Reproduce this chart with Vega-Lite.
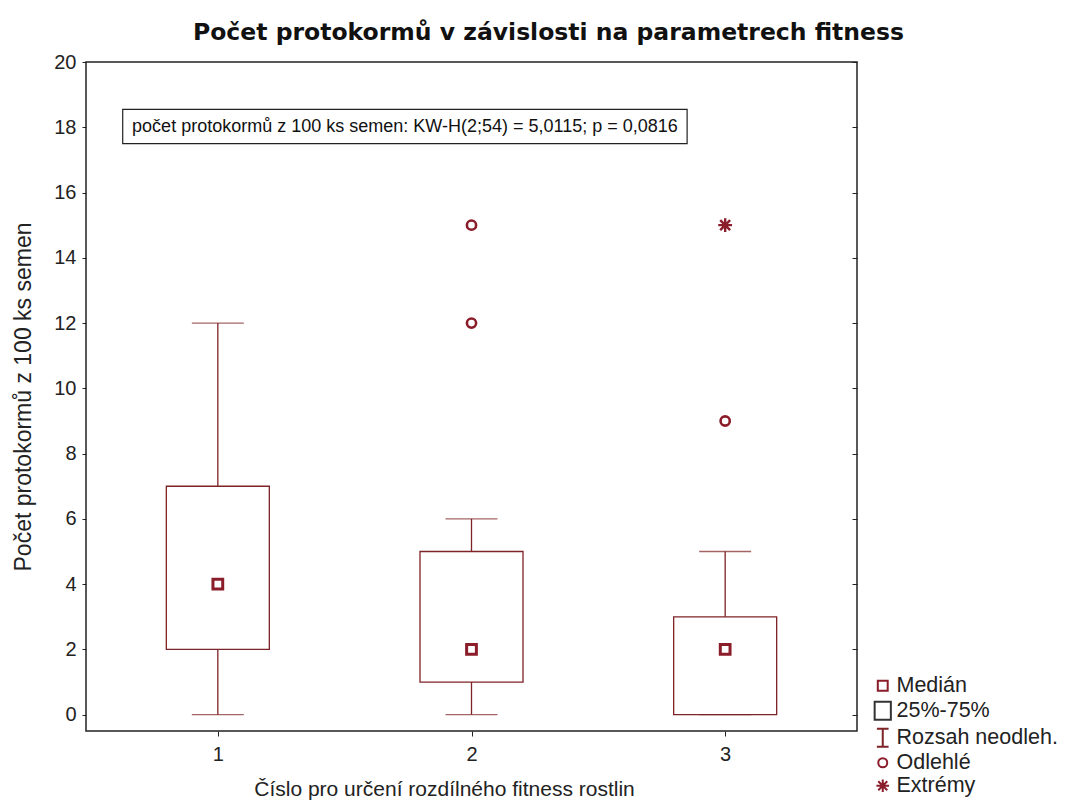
{
  "$schema": "https://vega.github.io/schema/vega-lite/v6.json",
  "width": 771,
  "height": 669,
  "autosize": {"type": "none"},
  "padding": {"left": 86, "top": 62, "right": 217, "bottom": 76},
  "background": "white",
  "config": {
    "font": "Liberation Sans",
    "view": {"stroke": "#222", "strokeWidth": 1.5},
    "axis": {"grid": false, "domain": false, "labelFont": "Liberation Sans", "titleFont": "Liberation Sans", "labelColor": "#222", "titleColor": "#222", "tickColor": "#222"}
  },
  "title": {
    "text": "Počet protokormů v závislosti na parametrech fitness",
    "font": "DejaVu Sans",
    "fontSize": 23.5,
    "fontWeight": "bold",
    "color": "#111",
    "anchor": "middle",
    "dx": 77,
    "offset": 8
  },
  "datasets": {
    "boxes": [
      {"group": 1, "min": 0, "q1": 2, "median": 4, "q3": 7, "max": 12},
      {"group": 2, "min": 0, "q1": 1, "median": 2, "q3": 5, "max": 6},
      {"group": 3, "min": 0, "q1": 0, "median": 2, "q3": 3, "max": 5}
    ],
    "outliers": [
      {"group": 2, "value": 12, "kind": "Odlehlé"},
      {"group": 2, "value": 15, "kind": "Odlehlé"},
      {"group": 3, "value": 9, "kind": "Odlehlé"}
    ],
    "extremes": [
      {"group": 3, "value": 15, "kind": "Extrémy"}
    ],
    "note": [
      {"x1": 0.625, "x2": 2.85, "y1": 17.5, "y2": 18.55, "xm": 1.7375, "ym": 18.02, "label": "počet protokormů z 100 ks semen: KW-H(2;54) = 5,0115; p = 0,0816"}
    ],
    "legend": [
      {"item": "Medián"},
      {"item": "25%-75%"},
      {"item": "Rozsah neodleh."},
      {"item": "Odlehlé"},
      {"item": "Extrémy"}
    ]
  },
  "resolve": {"axis": {"y": "independent"}},
  "layer": [
    {
      "data": {"name": "boxes"},
      "mark": {"type": "rule", "color": "#7e2326", "strokeWidth": 1.3},
      "encoding": {
        "x": {"field": "group", "type": "quantitative", "scale": {"domain": [0.5, 3.5], "nice": false, "zero": false},
          "axis": {"values": [1, 2, 3], "format": "d", "title": "Číslo pro určení rozdílného fitness rostlin", "labelFontSize": 20, "titleFontSize": 21, "titleFontWeight": "normal", "tickSize": 5, "labelPadding": 8, "titlePadding": 14, "titleX": 358, "titleAnchor": "middle"}},
        "y": {"field": "min", "type": "quantitative", "scale": {"domain": [-0.5, 20], "nice": false, "zero": false},
          "axis": {"values": [0, 2, 4, 6, 8, 10, 12, 14, 16, 18, 20], "title": "Počet protokormů z 100 ks semen", "labelFontSize": 20, "titleFontSize": 23, "titleFontWeight": "normal", "tickSize": 4, "labelPadding": 6, "titlePadding": 18}},
        "y2": {"field": "max"}
      }
    },
    {
      "data": {"name": "boxes"},
      "mark": {"type": "bar", "size": 103, "fill": "white", "stroke": "#7e2326", "strokeWidth": 1.3},
      "encoding": {
        "x": {"field": "group", "type": "quantitative"},
        "y": {"field": "q1", "type": "quantitative",
          "axis": {"orient": "right", "values": [0, 2, 4, 6, 8, 10, 12, 14, 16, 18, 20], "labels": false, "title": null, "tickSize": -5}},
        "y2": {"field": "q3"}
      }
    },
    {
      "data": {"name": "boxes"},
      "mark": {"type": "tick", "orient": "horizontal", "size": 52, "thickness": 1.3, "color": "#7e2326"},
      "encoding": {
        "x": {"field": "group", "type": "quantitative"},
        "y": {"field": "min", "type": "quantitative", "axis": null}
      }
    },
    {
      "data": {"name": "boxes"},
      "mark": {"type": "tick", "orient": "horizontal", "size": 52, "thickness": 1.3, "color": "#7e2326"},
      "encoding": {
        "x": {"field": "group", "type": "quantitative"},
        "y": {"field": "max", "type": "quantitative", "axis": null}
      }
    },
    {
      "data": {"name": "boxes"},
      "mark": {"type": "point", "shape": "square", "size": 95, "filled": false, "fill": "white", "stroke": "#8b1d2a", "strokeWidth": 3, "opacity": 1},
      "encoding": {
        "x": {"field": "group", "type": "quantitative"},
        "y": {"field": "median", "type": "quantitative", "axis": null}
      }
    },
    {
      "data": {"name": "outliers"},
      "mark": {"type": "point", "shape": "circle", "size": 85, "filled": false, "stroke": "#8b1d2a", "strokeWidth": 2.6, "opacity": 1},
      "encoding": {
        "x": {"field": "group", "type": "quantitative"},
        "y": {"field": "value", "type": "quantitative", "axis": null}
      }
    },
    {
      "data": {"name": "extremes"},
      "mark": {"type": "point", "shape": "M-1,0H1M0,-1V1M-0.72,-0.72L0.72,0.72M-0.72,0.72L0.72,-0.72", "size": 190, "filled": false, "stroke": "#8b1d2a", "strokeWidth": 2.4, "opacity": 1},
      "encoding": {
        "x": {"field": "group", "type": "quantitative"},
        "y": {"field": "value", "type": "quantitative", "axis": null}
      }
    },
    {
      "data": {"name": "note"},
      "mark": {"type": "rect", "fill": "white", "stroke": "#222", "strokeWidth": 1.2},
      "encoding": {
        "x": {"field": "x1", "type": "quantitative"},
        "x2": {"field": "x2"},
        "y": {"field": "y1", "type": "quantitative", "axis": null},
        "y2": {"field": "y2"}
      }
    },
    {
      "data": {"name": "note"},
      "mark": {"type": "text", "fontSize": 18, "font": "Liberation Sans", "color": "#111", "align": "center", "baseline": "middle"},
      "encoding": {
        "x": {"field": "xm", "type": "quantitative"},
        "y": {"field": "ym", "type": "quantitative", "axis": null},
        "text": {"field": "label"}
      }
    },
    {
      "data": {"name": "legend"},
      "mark": {"type": "point", "filled": false, "opacity": 0, "size": 324, "strokeWidth": 2.2},
      "encoding": {
        "x": {"value": 0},
        "y": {"value": 0},
        "shape": {
          "field": "item", "type": "nominal",
          "scale": {
            "domain": ["Medián", "25%-75%", "Rozsah neodleh.", "Odlehlé", "Extrémy"],
            "range": [
              "M-0.55,-0.55H0.55V0.55H-0.55Z",
              "M-0.9,-1H0.9V1H-0.9Z",
              "M-0.65,-1H0.65M0,-1V1M-0.65,1H0.65",
              "M0.5,0A0.5,0.5 0 1,1 -0.5,0A0.5,0.5 0 1,1 0.5,0Z",
              "M-0.7,0H0.7M0,-0.7V0.7M-0.5,-0.5L0.5,0.5M-0.5,0.5L0.5,-0.5"
            ]
          },
          "legend": {
            "title": null,
            "orient": "none",
            "legendX": 786,
            "legendY": 613,
            "padding": 0,
            "symbolSize": 324,
            "symbolStrokeWidth": 2,
            "symbolOpacity": 1,
            "labelFontSize": 21.5,
            "labelFont": "Liberation Sans",
            "labelColor": "#222",
            "labelOffset": 3,
            "rowPadding": 0,
            "labelLimit": 300
          }
        },
        "color": {
          "field": "item", "type": "nominal",
          "scale": {
            "domain": ["Medián", "25%-75%", "Rozsah neodleh.", "Odlehlé", "Extrémy"],
            "range": ["#8b1d2a", "#333333", "#7e2326", "#8b1d2a", "#8b1d2a"]
          }
        }
      }
    }
  ]
}
